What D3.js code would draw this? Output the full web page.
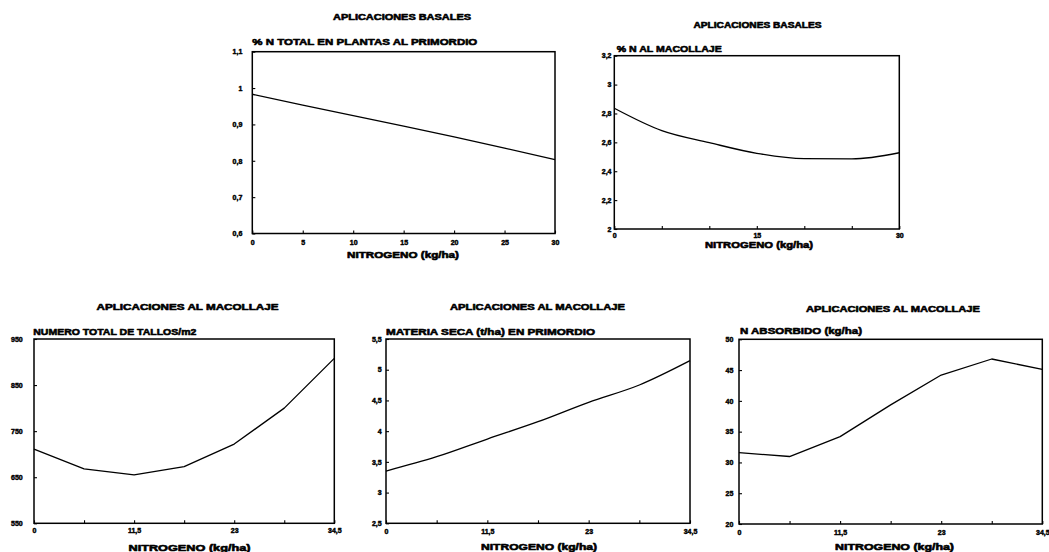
<!DOCTYPE html>
<html>
<head>
<meta charset="utf-8">
<script src="https://cdn.jsdelivr.net/npm/d3@7"></script>
<style>
  html, body { margin: 0; padding: 0; background: #fff; }
  svg { display: block; }
  text { font-family: "Liberation Sans", Arial, sans-serif; font-weight: 700; fill: #000; }
</style>
</head>
<body>
<script>
// ---- Data: nitrogen doses (kg/ha) and measured responses ----
const dosisBasal = [0, 5, 10, 15, 20, 25, 30];
const dosisMacollaje = [0, 5.75, 11.5, 17.25, 23, 28.75, 34.5];

const nTotalPrimordio = [0.983, 0.953, 0.924, 0.895, 0.866, 0.835, 0.803];   // % N total en plantas al primordio
const nAlMacollaje = [2.836, 2.681, 2.598, 2.524, 2.487, 2.485, 2.528];       // % N al macollaje
const tallosM2 = [711, 668, 655, 673, 722, 800, 908];                       // número total de tallos/m2
const materiaSeca = [3.351, 3.584, 3.872, 4.154, 4.47, 4.751, 5.147];       // materia seca (t/ha) en primordio
const nAbsorbido = [31.6, 30.96, 34.2, 39.35, 44.2, 46.8, 45.1];            // N absorbido (kg/ha)

// ---- Axis ticks ----
const xTicksBasal = [0, 5, 10, 15, 20, 25, 30];
const xLabelsBasalA = [0, 5, 10, 15, 20, 25, 30];
const xLabelsBasalB = [0, 15, 30];
const xTicksMacollaje = [0, 5.75, 11.5, 17.25, 23, 28.75, 34.5];
const xLabelsMacollaje = [0, 11.5, 23, 34.5];

const yTicksPrimordio = [0.6, 0.7, 0.8, 0.9, 1, 1.1];
const yTicksMacollaje = [2, 2.2, 2.4, 2.6, 2.8, 3, 3.2];
const yTicksTallos = [550, 650, 750, 850, 950];
const yTicksMateria = [2.5, 3, 3.5, 4, 4.5, 5, 5.5];
const yTicksAbsorbido = [20, 25, 30, 35, 40, 45, 50];

// ---- Texts ----
const tituloBasal = "APLICACIONES BASALES";
const tituloMacollaje = "APLICACIONES AL MACOLLAJE";
const ejeX = "NITROGENO (kg/ha)";

// Spanish number format: decimal comma
const fmt = d3.formatLocale({ decimal: ",", thousands: ".", grouping: [3], currency: ["", ""] }).format("~g");

// ---- Layout of each panel ----
const panels = [
  { x: dosisBasal, y: nTotalPrimordio, xDom: [0, 30], yDom: [0.6, 1.1],
    xTicks: xTicksBasal, xLabels: xLabelsBasalA, yTicks: yTicksPrimordio,
    box: [252.3, 51.7, 555, 233.5], curve: d3.curveLinear,
    title: tituloBasal, titleX: 402, titleY: 20, titleW: 138,
    sub: "% N TOTAL EN PLANTAS AL PRIMORDIO", subX: 252.3, subY: 45, subW: 225,
    xlabX: 403, xlabY: 258, xlabW: 112, xPad: 6.5, yPad: 10 },
  { x: dosisBasal, y: nAlMacollaje, xDom: [0, 30], yDom: [2, 3.2],
    xTicks: xTicksBasal, xLabels: xLabelsBasalB, yTicks: yTicksMacollaje,
    box: [614.3, 55.7, 899.3, 229], curve: d3.curveMonotoneX,
    title: tituloBasal, titleX: 757.5, titleY: 28.3, titleW: 128,
    sub: "% N AL MACOLLAJE", subX: 616.7, subY: 52.3, subW: 105,
    xlabX: 759, xlabY: 248, xlabW: 108, xPad: 4, yPad: 2.8 },
  { x: dosisMacollaje, y: tallosM2, xDom: [0, 34.5], yDom: [550, 950],
    xTicks: xTicksMacollaje, xLabels: xLabelsMacollaje, yTicks: yTicksTallos,
    box: [34, 339, 334.3, 523.3], curve: d3.curveLinear,
    title: tituloMacollaje, titleX: 187.5, titleY: 310, titleW: 182,
    sub: "NUMERO TOTAL DE TALLOS/m2", subX: 33.3, subY: 335, subW: 163,
    xlabX: 189.5, xlabY: 551, xlabW: 122, xPad: 5, yPad: 11.3 },
  { x: dosisMacollaje, y: materiaSeca, xDom: [0, 34.5], yDom: [2.5, 5.5],
    xTicks: xTicksMacollaje, xLabels: xLabelsMacollaje, yTicks: yTicksMateria,
    box: [386, 339, 690, 523.3], curve: d3.curveMonotoneX,
    title: tituloMacollaje, titleX: 537.5, titleY: 310, titleW: 175,
    sub: "MATERIA SECA (t/ha) EN PRIMORDIO", subX: 386, subY: 335, subW: 209,
    xlabX: 539, xlabY: 550, xlabW: 116, xPad: 6, yPad: 4.3 },
  { x: dosisMacollaje, y: nAbsorbido, xDom: [0, 34.5], yDom: [20, 50],
    xTicks: xTicksMacollaje, xLabels: xLabelsMacollaje, yTicks: yTicksAbsorbido,
    box: [739, 339.3, 1042.3, 524], curve: d3.curveLinear,
    title: tituloMacollaje, titleX: 893, titleY: 311.5, titleW: 174,
    sub: "N ABSORBIDO (kg/ha)", subX: 740, subY: 334, subW: 122,
    xlabX: 894.5, xlabY: 550, xlabW: 119, xPad: 6.5, yPad: 5.7 }
];

const svg = d3.select("body").append("svg")
  .attr("width", 1049).attr("height", 552);

// heavy, plotter-like lettering
function heavy(sel, w) {
  sel.attr("stroke", "#000").attr("stroke-width", w).attr("stroke-linejoin", "round");
}

panels.forEach(p => {
  const [x0, y0, x1, y1] = p.box;
  const xs = d3.scaleLinear().domain(p.xDom).range([x0, x1]);
  const ys = d3.scaleLinear().domain(p.yDom).range([y1, y0]);
  const g = svg.append("g");

  // x axis: inward ticks, labels only on selected values
  const xAxis = d3.axisBottom(xs)
    .tickValues(p.xTicks)
    .tickSizeInner(-3).tickSizeOuter(0).tickPadding(p.xPad)
    .tickFormat(d => p.xLabels.includes(d) ? fmt(d) : "");
  const gx = g.append("g").attr("transform", `translate(0,${y1})`).call(xAxis);

  const yAxis = d3.axisLeft(ys)
    .tickValues(p.yTicks)
    .tickSizeInner(-3).tickSizeOuter(0).tickPadding(p.yPad)
    .tickFormat(fmt);
  const gy = g.append("g").attr("transform", `translate(${x0},0)`).call(yAxis);

  [gx, gy].forEach(a => {
    a.select(".domain").remove();
    a.selectAll(".tick line").attr("stroke", "#000").attr("stroke-width", 1.1);
    a.selectAll(".tick text")
      .attr("font-family", '"Liberation Sans", Arial, sans-serif')
      .attr("font-weight", 700).attr("font-size", 7).attr("fill", "#000")
      .call(heavy, 0.45);
  });

  // plot frame
  g.append("rect")
    .attr("x", x0).attr("y", y0)
    .attr("width", x1 - x0).attr("height", y1 - y0)
    .attr("fill", "none").attr("stroke", "#000").attr("stroke-width", 1.5);

  // response line
  const line = d3.line()
    .x((d, i) => xs(p.x[i]))
    .y(d => ys(d))
    .curve(p.curve);
  g.append("path")
    .datum(p.y)
    .attr("d", line)
    .attr("fill", "none").attr("stroke", "#000").attr("stroke-width", 1.3)
    .attr("stroke-linejoin", "round");

  // titles
  g.append("text")
    .attr("x", p.titleX).attr("y", p.titleY)
    .attr("text-anchor", "middle").attr("font-size", 9)
    .attr("textLength", p.titleW).attr("lengthAdjust", "spacingAndGlyphs")
    .text(p.title).call(heavy, 0.6);
  g.append("text")
    .attr("x", p.subX).attr("y", p.subY)
    .attr("font-size", 9.5)
    .attr("textLength", p.subW).attr("lengthAdjust", "spacingAndGlyphs")
    .text(p.sub).call(heavy, 0.6);
  g.append("text")
    .attr("x", p.xlabX).attr("y", p.xlabY)
    .attr("text-anchor", "middle").attr("font-size", 9)
    .attr("textLength", p.xlabW).attr("lengthAdjust", "spacingAndGlyphs")
    .text(ejeX).call(heavy, 0.6);
});
</script>
</body>
</html>
